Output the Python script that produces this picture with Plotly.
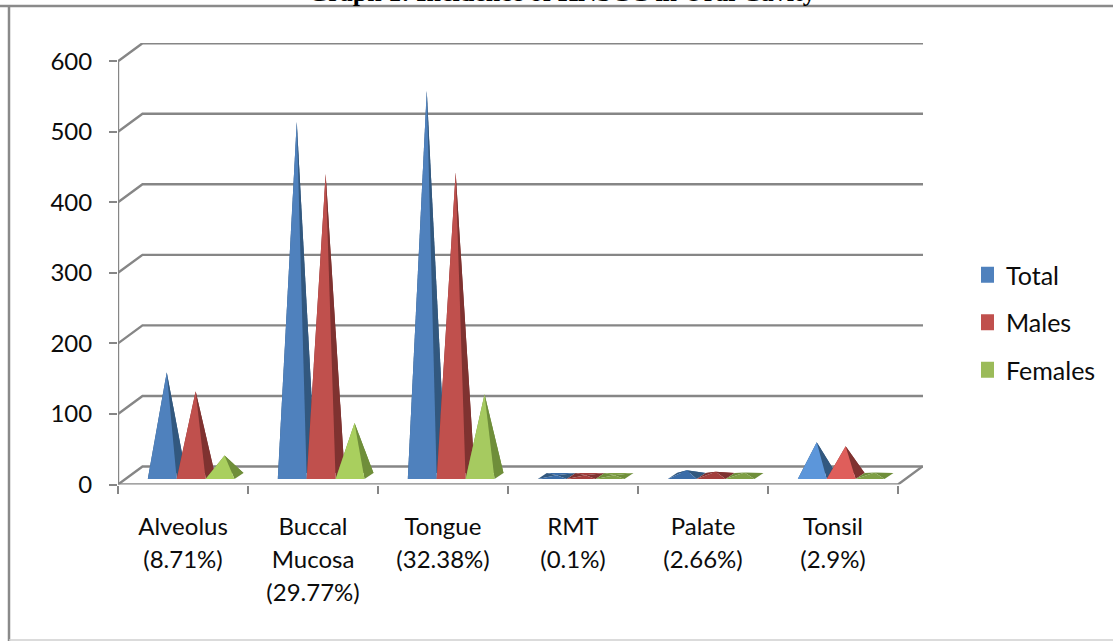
import plotly.graph_objects as go

# ---- data ----
categories = ["Alveolus<br>(8.71%)", "Buccal<br>Mucosa<br>(29.77%)", "Tongue<br>(32.38%)",
              "RMT<br>(0.1%)", "Palate<br>(2.66%)", "Tonsil<br>(2.9%)"]
total = [147, 502, 546, 1, 8, 48]
males = [120, 428, 430, 1, 6, 42]
females = [29, 75, 116, 1, 5, 5]
y_ticks = [0, 100, 200, 300, 400, 500, 600]
title_text = "Graph 1: Incidence of HNSCC in Oral Cavity"

W, H = 1113, 641
PX_X0, PX_X1 = 118.0, 923.0   # front-left corner, back-right corner
PX_Y0, PX_Y1 = 484.5, 43.0    # value 0 at front, top of back wall
CAT_PX = 130.0
VAL_PX = 0.7055               # px per unit
X_MAX = (PX_X1 - PX_X0) / CAT_PX
Y_MAX = (PX_Y0 - PX_Y1) / VAL_PX
N = len(categories)

WALL_DX = 24.5 / CAT_PX       # depth of the chart box
WALL_DY = 18.0 / VAL_PX
GRID = "#868686"

BAR_W = 28.9 / CAT_PX
BAR_START = 29.8 / CAT_PX
DEPTH_DX = 9.0 / CAT_PX
DEPTH_DY = 6.0 / VAL_PX
BASE_Y = 5.5 / VAL_PX

palette = {
    "Total":   dict(front="#4F81BD", side="#32587F", bright="#5C96DA", flat="#3A6CA8", legend="#4F81BD"),
    "Males":   dict(front="#C0504D", side="#7F3230", bright="#DF5E5B", flat="#A33F3D", legend="#C0504D"),
    "Females": dict(front="#A6CA60", side="#6F8E3A", bright="#A9CF5E", flat="#7F9F45", legend="#9BBB59"),
}
series = [("Total", total), ("Males", males), ("Females", females)]

fig = go.Figure()


def line(xs, ys):
    fig.add_trace(go.Scatter(x=xs, y=ys, mode="lines", showlegend=False, hoverinfo="skip",
                             line=dict(color=GRID, width=2.4), cliponaxis=False))


for v in y_ticks:
    line([0, WALL_DX, X_MAX], [v, v + WALL_DY, v + WALL_DY])
line([0, N, N + WALL_DX], [0, 0, WALL_DY])
line([0, 0], [0, y_ticks[-1]])


def face(xs, ys, color):
    fig.add_trace(go.Scatter(x=xs + xs[:1], y=ys + ys[:1], mode="lines", fill="toself",
                             fillcolor=color, line=dict(width=0), showlegend=False,
                             hoverinfo="skip", cliponaxis=False))


for cat in range(N):
    for s, (name, values) in enumerate(series):
        p = palette[name]
        v = values[cat]
        left = cat + BAR_START + s * BAR_W
        right = left + BAR_W
        cx = left + BAR_W / 2 + DEPTH_DX / 2
        ay = BASE_Y + DEPTH_DY / 2 + v
        if v <= 10:
            front, side, back = p["flat"], p["side"], p["flat"]
        elif v <= 80:
            front, side, back = p["bright"], p["side"], p["side"]
        else:
            front, side, back = p["front"], p["side"], p["side"]
        blx, brx = left + DEPTH_DX, right + DEPTH_DX
        bly = BASE_Y + DEPTH_DY
        face([blx, brx, cx], [bly, bly, ay], back)
        face([left, blx, cx], [BASE_Y, bly, ay], side)
        face([right, brx, cx], [BASE_Y, bly, ay], side)
        face([left, right, cx], [BASE_Y, BASE_Y, ay], front)

for name, _ in series:
    fig.add_trace(go.Scatter(x=[None], y=[None], mode="markers", name=name, legendgroup=name,
                             marker=dict(symbol="square", size=16, color=palette[name]["legend"])))

FONT = "Lato"
TXT = 24
LEGEND_TXT = 25
LINE_FONT = 25.4   # sets the spacing between the lines of an axis label
INK = "#0C0C0C"


def sized(label):
    return "<br>".join(f"<span style='font-size:{TXT}px'>{part}</span>" for part in label.split("<br>"))


fig.update_layout(
    autosize=False, width=W, height=H, margin=dict(l=0, r=0, t=0, b=0, autoexpand=False),
    paper_bgcolor="white", plot_bgcolor="white",
    font=dict(family=FONT, size=TXT, color=INK),
    xaxis=dict(domain=[PX_X0 / W, PX_X1 / W], range=[0, X_MAX], showgrid=False, zeroline=False,
               showline=False, tickmode="array", tickvals=[i + 0.5 for i in range(N)],
               ticktext=[sized(c) for c in categories], ticks="", ticklabelstandoff=24,
               tickfont=dict(family=FONT, size=LINE_FONT, color=INK),
               minor=dict(tickmode="array", tickvals=list(range(N + 1)), ticks="outside",
                          ticklen=8, tickwidth=2.4, tickcolor=GRID, showgrid=False)),
    yaxis=dict(domain=[1 - PX_Y0 / H, 1 - PX_Y1 / H], range=[0, Y_MAX], showgrid=False, zeroline=False,
               showline=False, tickmode="array", tickvals=y_ticks, ticks="outside", ticklen=8,
               tickwidth=2.4, tickcolor=GRID, ticklabelstandoff=12,
               tickfont=dict(family=FONT, size=TXT, color=INK)),
    legend=dict(x=981 / W, xanchor="left", y=1 - 252 / H, yanchor="top", traceorder="grouped",
                tracegroupgap=12, indentation=-15, font=dict(family=FONT, size=LEGEND_TXT, color=INK),
                bgcolor="rgba(0,0,0,0)", itemclick=False, itemdoubleclick=False),
    shapes=[
        dict(type="line", xref="paper", yref="paper", x0=0, x1=1, y0=1 - 6 / H, y1=1 - 6 / H,
             line=dict(color="#8A8A8A", width=2.5)),
        dict(type="line", xref="paper", yref="paper", x0=9 / W, x1=9 / W, y0=0, y1=1 - 6 / H,
             line=dict(color="#8A8A8A", width=2.5)),
        dict(type="line", xref="paper", yref="paper", x0=9 / W, x1=1, y0=1 / H, y1=1 / H,
             line=dict(color="#CFCFCF", width=1.5)),
    ],
    annotations=[dict(text="<b>" + title_text + "</b>", xref="paper", yref="paper", x=562 / W, xanchor="center",
                      y=1 + 23.5 / H, yanchor="top", showarrow=False,
                      font=dict(family="Liberation Serif", size=26, color="black"))],
)

fig.write_html("out.html", config=dict(displayModeBar=False, responsive=False),
               post_script="document.body.style.margin='0';")
